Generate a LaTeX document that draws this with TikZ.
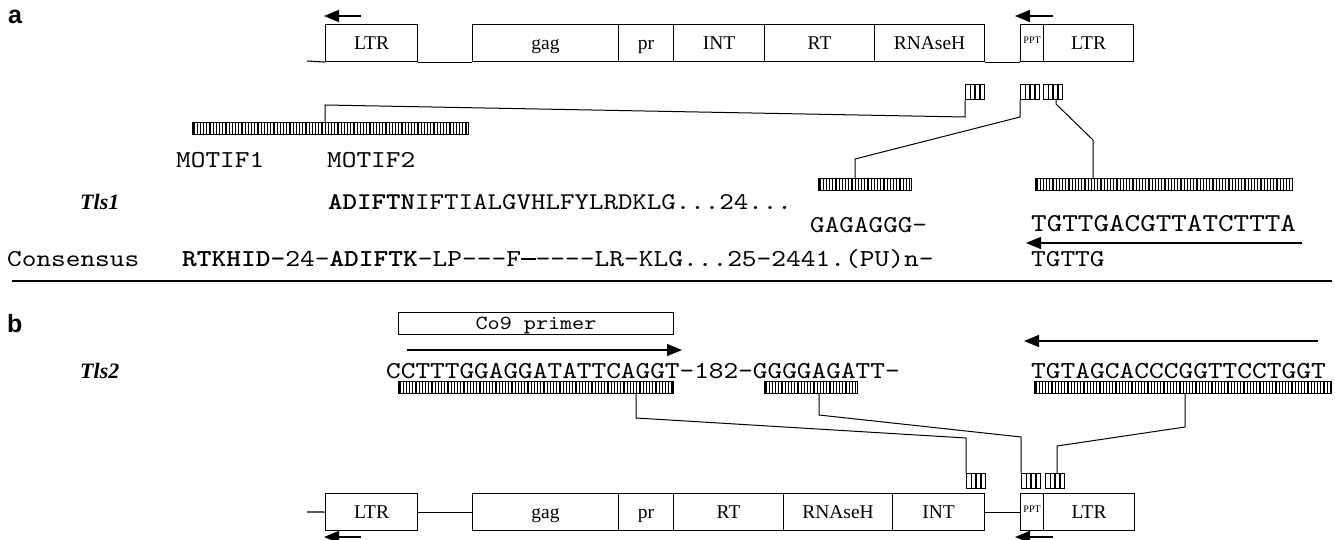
\documentclass[tikz,border=0pt]{standalone}
\usepackage{fontspec}
\setmainfont{Liberation Serif}
\newfontfamily\monof{lmmono10-regular.otf}[BoldFont=lmmonolt10-bold.otf, FakeStretch=1.15, Ligatures=TeXOff]
\newfontfamily\sansf{Liberation Sans}
\usetikzlibrary{arrows.meta,calc}

% one monospaced cell filled by a long dash
\newcommand\celldash{\makebox[0.60375em][l]{\rule[0.24em]{0.60375em}{0.075em}}}

\tikzset{
  gbox/.style={draw, line width=1.1pt, inner sep=0pt, anchor=north west,
    minimum height=37pt, text height=13.5pt, text depth=0pt,
    font=\fontsize{19.5}{19.5}\selectfont},
  pptbox/.style={gbox, text height=1pt, font=\fontsize{10}{10}\selectfont},
  bone/.style={line width=1.1pt},
  conn/.style={line width=1pt},
  arr/.style={line width=1.3pt, -{Triangle[length=15pt,width=12pt]}},
  longbar/.style={draw, line width=0.9pt, inner sep=0pt, anchor=north west,
    minimum height=12pt, fill=white,
    path picture={\foreach \i in {1.6,4.8,...,340}
      {\draw[line width=1.15pt] ([xshift=\i pt]path picture bounding box.south west)
        -- ([xshift=\i pt]path picture bounding box.north west);}}},
  smallbar/.style={draw, line width=1.2pt, inner sep=0pt, anchor=north west,
    minimum width=19pt, minimum height=15pt, fill=white,
    path picture={\foreach \i in {4.75,9.5,14.25}
      {\draw[line width=1.3pt] ([xshift=\i pt]path picture bounding box.south west)
        -- ([xshift=\i pt]path picture bounding box.north west);}}},
  seq/.style={inner sep=0pt, anchor=base west, font=\monof\fontsize{24.3}{24.3}\selectfont},
  tls/.style={inner sep=0pt, anchor=base west, font=\fontsize{22}{22}\selectfont\bfseries\itshape},
  panel/.style={inner sep=0pt, anchor=base west, font=\sansf\fontsize{25}{25}\selectfont\bfseries},
}

\begin{document}
\begin{tikzpicture}[x=1pt,y=-1pt]
\fill[white] (0,0) rectangle (1335,540);
\useasboundingbox (0,0) rectangle (1335,540);

% ---------------- panel a ----------------
\node[panel] (la) at (8,24) {a};

% element map of Tls1
\node[gbox, minimum width=92pt]  (ltrA)  at (325,24) {LTR};
\node[gbox, minimum width=146pt] (gagA)  at (472,24) {gag};
\node[gbox, minimum width=55pt]  (prA)   at (618,24) {pr};
\node[gbox, minimum width=91pt]  (intA)  at (673,24) {INT};
\node[gbox, minimum width=110pt] (rtA)   at (764,24) {RT};
\node[gbox, minimum width=110pt] (rnaA)  at (874,24) {RNAseH};
\node[pptbox, minimum width=23pt] (pptA) at (1020,24) {PPT};
\node[gbox, minimum width=90pt]  (ltrA2) at (1043,24) {LTR};
\coordinate (startA) at (307,61);
\draw[bone] (startA) -- (ltrA.south west);
\draw[bone] (ltrA.south east) -- (gagA.south west);
\draw[bone] (rnaA.south east) -- (pptA.south west);

% LTR orientation arrows
\coordinate (aa1) at (361,16); \coordinate (aa2) at (324,16);
\coordinate (aa3) at (1053,16); \coordinate (aa4) at (1015,16);
\draw[arr] (aa1) -- (aa2);
\draw[arr] (aa3) -- (aa4);

% probe positions on the element
\node[smallbar] (sA1) at (965,84) {};
\node[smallbar] (sA2) at (1020,84) {};
\node[smallbar] (sA3) at (1043,84) {};

% enlarged probes
\node[longbar, minimum width=276pt] (barA1) at (192,122) {};
\node[longbar, minimum width=93pt]  (barA2) at (818,178) {};
\node[longbar, minimum width=257pt] (barA3) at (1035,178) {};

\coordinate (kA1) at (965,117); \coordinate (kA2) at (325,105);
\draw[conn] (sA1.south west) -- (kA1) -- (kA2) -- (kA2 |- barA1.north);
\coordinate (kA3) at (1020,117); \coordinate (kA4) at (855,159);
\draw[conn] (sA2.south west) -- (kA3) -- (kA4) -- (kA4 |- barA2.north);
\coordinate (kA5) at (1056,104); \coordinate (kA6) at (1093,140);
\draw[conn] (sA3.south -| kA5) -- (kA5) -- (kA6) -- (kA6 |- barA3.north);

% motif labels and sequences
\node[seq] (m1) at (176,168) {MOTIF1};
\node[seq] (m2) at (327,168) {MOTIF2};
\node[tls] (tls1) at (80,209) {Tls1};
\node[seq, font=\monof\fontsize{24}{24}\selectfont] (pep1) at (328,209)
  {\textbf{ADIFTN}IFTIALGVHLFYLRDKLG...24...};
\node[seq, font=\monof\fontsize{24.2}{24.2}\selectfont] (gaga) at (810,232) {GAGAGGG-};
\node[seq, font=\monof\fontsize{25.8}{25.8}\selectfont] (tgtA) at (1031,231) {TGTTGACGTTATCTTTA};
\coordinate (ra1) at (1302,243); \coordinate (ra2) at (1026,243);
\draw[arr] (ra1) -- (ra2);
\node[seq] (cons) at (7,266) {Consensus};
\node[seq, font=\monof\fontsize{24.4}{24.4}\selectfont] (consseq) at (182,266)
  {\textbf{RTKHID-}24-\textbf{ADIFTK}-LP---F\celldash----LR-KLG...25-2441.(PU)n-};
\node[seq] (tgtB) at (1031,266) {TGTTG};

% separator between the panels
\coordinate (sep1) at (12,281); \coordinate (sep2) at (1332,281);
\draw[line width=2pt] (sep1) -- (sep2);

% ---------------- panel b ----------------
\node[panel] (lb) at (7,332) {b};
\node[draw, line width=1pt, inner sep=0pt, anchor=north west, minimum width=275pt,
  minimum height=22pt, text height=11pt, text depth=0pt,
  font=\monof\fontsize{20}{20}\selectfont] (co9) at (398,312) {Co9 primer};
\coordinate (rb1) at (407,350); \coordinate (rb2) at (682,350);
\draw[arr] (rb1) -- (rb2);
\node[tls] (tls2) at (80,378) {Tls2};
\node[seq] (seqB1) at (386,378) {CCTTTGGAGGATATTCAGGT-182-GGGGAGATT-};
\node[seq, font=\monof\fontsize{24.4}{24.4}\selectfont] (seqB2) at (1031,378) {TGTAGCACCCGGTTCCTGGT};
\coordinate (rb3) at (1318,341); \coordinate (rb4) at (1024,341);
\draw[arr] (rb3) -- (rb4);

\node[longbar, minimum width=275pt] (barB1) at (398,381) {};
\node[longbar, minimum width=93pt]  (barB2) at (764,381) {};
\node[longbar, minimum width=297pt] (barB3) at (1034,381) {};

% element map of Tls2
\node[gbox, minimum width=92pt]  (ltrB)  at (325,493) {LTR};
\node[gbox, minimum width=146pt] (gagB)  at (472,493) {gag};
\node[gbox, minimum width=55pt]  (prB)   at (618,493) {pr};
\node[gbox, minimum width=110pt] (rtB)   at (673,493) {RT};
\node[gbox, minimum width=109pt] (rnaB)  at (783,493) {RNAseH};
\node[gbox, minimum width=92pt]  (intB)  at (892,493) {INT};
\node[pptbox, minimum width=23pt] (pptB) at (1020,493) {PPT};
\node[gbox, minimum width=91pt]  (ltrB2) at (1043,493) {LTR};
\coordinate (startB) at (307,512);
\draw[bone] (startB) -- (ltrB.west);
\draw[bone] (ltrB.east) -- (gagB.west);
\draw[bone] (intB.east) -- (pptB.west);

\node[smallbar] (sB1) at (966,473) {};
\node[smallbar] (sB2) at (1021,473) {};
\node[smallbar] (sB3) at (1045,473) {};

\coordinate (kB1) at (636,418); \coordinate (kB2) at (966,438);
\draw[conn] (barB1.south -| kB1) -- (kB1) -- (kB2) -- (sB1.north west);
\coordinate (kB3) at (819,415); \coordinate (kB4) at (1021,437);
\draw[conn] (barB2.south -| kB3) -- (kB3) -- (kB4) -- (sB2.north west);
\coordinate (kB5) at (1185,427); \coordinate (kB6) at (1057,446);
\draw[conn] (barB3.south -| kB5) -- (kB5) -- (kB6) -- (sB3.north -| kB6);

\coordinate (ab1) at (361,537); \coordinate (ab2) at (324,537);
\coordinate (ab3) at (1053,537); \coordinate (ab4) at (1015,537);
\draw[arr] (ab1) -- (ab2);
\draw[arr] (ab3) -- (ab4);
\end{tikzpicture}
\end{document}
